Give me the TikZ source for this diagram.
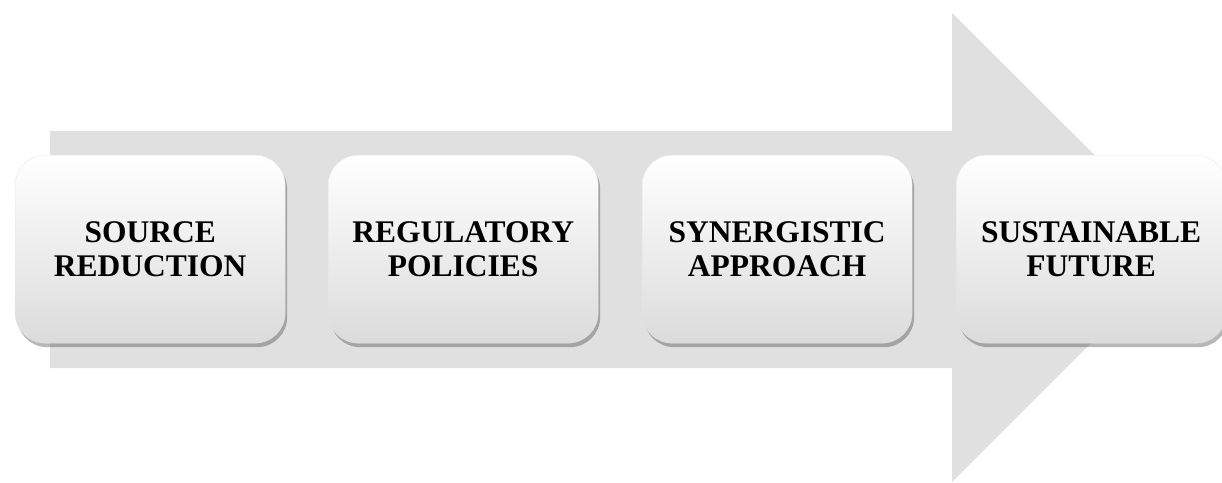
\documentclass[tikz,border=0pt]{standalone}
\usepackage{fontspec}
\setmainfont{Liberation Serif}
\usetikzlibrary{shadows}
\definecolor{arrowgray}{RGB}{224,224,224}
\begin{document}
\begin{tikzpicture}[x=1pt,y=-1pt,
  stagebox/.style={rounded corners=30pt, minimum width=270pt, minimum height=188pt,
    anchor=north west, align=center, font=\bfseries\fontsize{31.5}{34}\selectfont,
    top color=white, middle color=white, bottom color=black!14, draw=black!10, line width=0.3pt,
    drop shadow={shadow xshift=2pt, shadow yshift=-4pt, opacity=0.4, fill=black!70}}]
\useasboundingbox (0,0) rectangle (1222,482);
% big arrow
\fill[arrowgray] (50,131) -- (952,131) -- (952,13) -- (1187,247) -- (952,482) -- (952,368) -- (50,368) -- cycle;
\node[stagebox] (b1) at (15,155) {SOURCE\\REDUCTION};
\node[stagebox] (b2) at (328,155) {REGULATORY\\POLICIES};
\node[stagebox] (b3) at (642,155) {SYNERGISTIC\\APPROACH};
\node[stagebox] (b4) at (956,155) {SUSTAINABLE\\FUTURE};
\end{tikzpicture}
\end{document}
